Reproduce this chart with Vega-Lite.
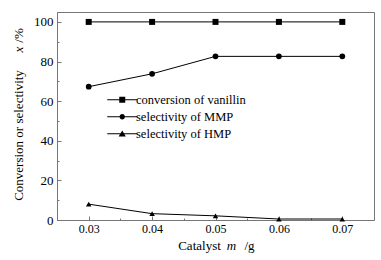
{
  "$schema": "https://vega.github.io/schema/vega-lite/v6.json",
  "width": 317,
  "height": 208,
  "autosize": {"type": "none"},
  "padding": {"left": 57, "top": 12, "right": 7, "bottom": 40},
  "config": {
    "font": "Liberation Serif",
    "view": {"stroke": "#777", "strokeWidth": 1},
    "style": {
      "guide-label": {"font": "Liberation Serif", "fill": "black"},
      "guide-title": {"font": "Liberation Serif", "fill": "black"}
    },
    "axis": {
      "grid": false,
      "domainColor": "#777",
      "tickColor": "#777",
      "labelColor": "black",
      "titleColor": "black",
      "labelFontSize": 12,
      "titleFontSize": 13,
      "titleFontWeight": "normal",
      "labelFont": "Liberation Serif",
      "titleFont": "Liberation Serif"
    },
    "legend": {"labelFont": "Liberation Serif"}
  },
  "data": {
    "values": [
      {"m": 0.03, "series": "conversion of vanillin", "v": 100},
      {"m": 0.04, "series": "conversion of vanillin", "v": 100},
      {"m": 0.05, "series": "conversion of vanillin", "v": 100},
      {"m": 0.06, "series": "conversion of vanillin", "v": 100},
      {"m": 0.07, "series": "conversion of vanillin", "v": 100},
      {"m": 0.03, "series": "selectivity of MMP", "v": 67.3},
      {"m": 0.04, "series": "selectivity of MMP", "v": 73.8},
      {"m": 0.05, "series": "selectivity of MMP", "v": 82.6},
      {"m": 0.06, "series": "selectivity of MMP", "v": 82.6},
      {"m": 0.07, "series": "selectivity of MMP", "v": 82.6},
      {"m": 0.03, "series": "selectivity of HMP", "v": 8.0},
      {"m": 0.04, "series": "selectivity of HMP", "v": 3.2},
      {"m": 0.05, "series": "selectivity of HMP", "v": 2.1},
      {"m": 0.06, "series": "selectivity of HMP", "v": 0.5},
      {"m": 0.07, "series": "selectivity of HMP", "v": 0.5}
    ]
  },
  "layer": [
    {
      "mark": {"type": "line", "color": "black", "strokeWidth": 1},
      "encoding": {
        "x": {
          "field": "m", "type": "quantitative",
          "scale": {"domain": [0.025, 0.075], "nice": false, "zero": false},
          "axis": {
            "orient": "bottom",
            "values": [0.03, 0.04, 0.05, 0.06, 0.07],
            "format": ".2f",
            "tickSize": -4,
            "labelPadding": 7,
            "labelFont": "Liberation Serif",
            "labelFontSize": 12,
            "title": "Catalyst",
            "titleX": 142,
            "titleY": 25,
            "titleAlign": "center",
            "titleBaseline": "middle"
          }
        },
        "y": {
          "field": "v", "type": "quantitative",
          "scale": {"domain": [0, 105], "nice": false},
          "axis": {
            "orient": "left",
            "values": [0, 20, 40, 60, 80, 100],
            "tickSize": -4,
            "labelPadding": 8,
            "labelFont": "Liberation Serif",
            "labelFontSize": 13,
            "title": "Conversion or selectivity",
            "titleX": -39,
            "titleY": 123,
            "titleAngle": 270,
            "titleAlign": "center",
            "titleBaseline": "middle"
          }
        },
        "detail": {"field": "series"}
      }
    },
    {
      "mark": {"type": "point", "filled": true, "color": "black", "opacity": 1},
      "encoding": {
        "x": {
          "field": "m", "type": "quantitative",
          "axis": {
            "orient": "bottom",
            "values": [0.035, 0.045, 0.055, 0.065],
            "labels": false,
            "domain": false,
            "tickSize": -2,
            "title": "m",
            "titleFontStyle": "italic",
            "titleX": 174,
            "titleY": 25,
            "titleAlign": "center",
            "titleBaseline": "middle"
          }
        },
        "y": {
          "field": "v", "type": "quantitative",
          "axis": {
            "orient": "left",
            "values": [10, 30, 50, 70, 90],
            "labels": false,
            "domain": false,
            "tickSize": -2,
            "title": "x",
            "titleFontStyle": "italic",
            "titleX": -39,
            "titleY": 37,
            "titleAngle": 270,
            "titleAlign": "center",
            "titleBaseline": "middle"
          }
        },
        "shape": {
          "field": "series",
          "scale": {
            "domain": ["conversion of vanillin", "selectivity of MMP", "selectivity of HMP"],
            "range": ["square", "circle", "triangle-up"]
          },
          "legend": null
        },
        "size": {
          "field": "series", "type": "nominal",
          "scale": {
            "domain": ["conversion of vanillin", "selectivity of MMP", "selectivity of HMP"],
            "range": [36, 30, 36]
          },
          "legend": null
        }
      }
    },
    {
      "mark": {"type": "point", "filled": true, "color": "black", "opacity": 0, "size": 36},
      "encoding": {
        "x": {
          "field": "m", "type": "quantitative",
          "axis": {
            "orient": "bottom",
            "labels": false,
            "ticks": false,
            "domain": false,
            "title": "/g",
            "titleX": 192,
            "titleY": 25,
            "titleAlign": "center",
            "titleBaseline": "middle"
          }
        },
        "y": {
          "field": "v", "type": "quantitative",
          "axis": {
            "orient": "left",
            "labels": false,
            "ticks": false,
            "domain": false,
            "title": "/%",
            "titleX": -39,
            "titleY": 23,
            "titleAngle": 270,
            "titleAlign": "center",
            "titleBaseline": "middle"
          }
        },
        "shape": {
          "field": "series",
          "scale": {
            "domain": ["conversion of vanillin", "selectivity of MMP", "selectivity of HMP"],
            "range": [
              "M-5,-0.17H5V0.17H-5ZM-1,-1H1V1H-1Z",
              "M-5,-0.17H5V0.17H-5ZM0.9,0A0.9,0.9,0,1,1,-0.9,0A0.9,0.9,0,1,1,0.9,0Z",
              "M-5,-0.17H5V0.17H-5ZM0,-1.1L1.2,0.9H-1.2Z"
            ]
          },
          "legend": {
            "title": null,
            "orient": "none",
            "legendX": 59,
            "legendY": 81.5,
            "padding": 0,
            "symbolSize": 36,
            "symbolOpacity": 1,
            "symbolFillColor": "black",
            "symbolStrokeColor": "black",
            "symbolStrokeWidth": 0,
            "labelOffset": 7.5,
            "labelFont": "Liberation Serif",
            "labelFontSize": 12.5,
            "labelColor": "black",
            "rowPadding": 4,
            "encode": {
              "symbols": {
                "update": {
                  "fill": {"value": "black"},
                  "opacity": {"value": 1}
                }
              }
            }
          }
        }
      }
    }
  ],
  "resolve": {
    "scale": {"shape": "independent", "size": "independent"},
    "axis": {"x": "independent", "y": "independent"}
  }
}
